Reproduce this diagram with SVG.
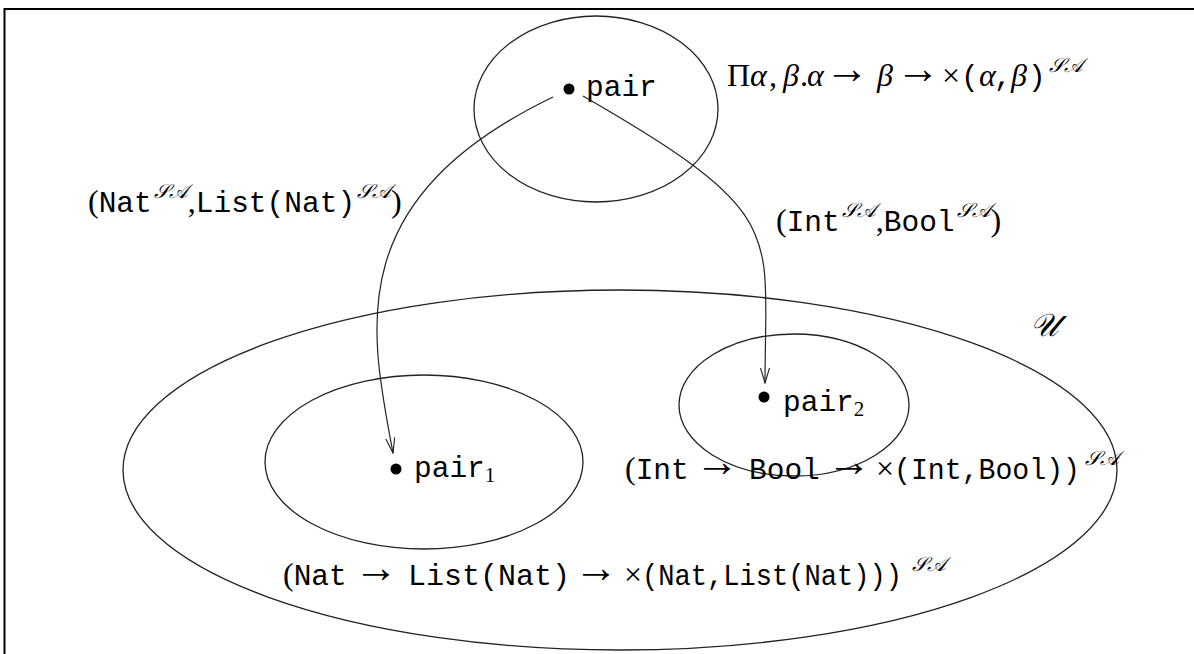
<svg xmlns="http://www.w3.org/2000/svg" width="1194" height="654" viewBox="0 0 1194 654">
  <style>
    .ring { fill: none; stroke: #222; stroke-width: 1.3; }
    .edge { fill: none; stroke: #222; stroke-width: 1.2; }
    .dot { fill: #000; }
    .tt { font-family: "Liberation Mono", "DejaVu Sans Mono", monospace; font-size: 29.5px; fill: #000; }
    .rm { font-family: "Liberation Serif", "DejaVu Serif", serif; font-size: 32px; fill: #000; }
    .it { font-family: "Liberation Serif", "DejaVu Serif", serif; font-style: italic; font-size: 32px; fill: #000; }
    .ar { font-family: "Liberation Serif", "DejaVu Serif", serif; font-size: 44px; fill: #000; }
    .sup { font-family: "Liberation Serif", "DejaVu Serif", serif; font-style: italic; font-size: 20px; fill: #000; }
    .sub { font-family: "Liberation Serif", "DejaVu Serif", serif; font-size: 21px; fill: #000; }
  </style>
  <defs>
    <marker id="vee" viewBox="0 0 16 12" refX="15" refY="6" markerWidth="16" markerHeight="12" markerUnits="userSpaceOnUse" orient="auto">
      <path d="M0,1.5 L15,6 L0,10.5" fill="none" stroke="#222" stroke-width="1.1"/>
    </marker>
  </defs>

  <rect width="1194" height="654" fill="#fff"/>
  <!-- frame -->
  <path d="M4.5,654 L4.5,9 L1194,9" fill="none" stroke="#000" stroke-width="2"/>

  <!-- universe -->
  <g id="universe">
    <ellipse class="ring" cx="620" cy="470" rx="497" ry="180"/>
    <text class="it" x="1030" y="336" font-size="34">𝒰</text>
  </g>

  <!-- polymorphic pair -->
  <g id="pair">
    <ellipse class="ring" cx="596" cy="109" rx="122" ry="93"/>
    <circle class="dot" cx="569" cy="89" r="5.5"/>
    <text class="tt" x="586" y="96">pair</text>
    <text y="86">
      <tspan class="rm" x="727">Π</tspan><tspan class="it" x="750">α</tspan><tspan class="rm" x="769">,</tspan><tspan class="it" x="783">β</tspan><tspan class="rm" x="800">.</tspan><tspan class="it" x="807">α</tspan><tspan class="ar" x="825" dy="-3">→</tspan><tspan class="it" x="877" dy="3">β</tspan><tspan class="ar" x="896" dy="-3">→</tspan><tspan class="rm" x="942" dy="3">×</tspan><tspan class="tt" x="961">(</tspan><tspan class="it" x="979">α</tspan><tspan class="tt" x="994">,</tspan><tspan class="it" x="1011">β</tspan><tspan class="tt" x="1028">)</tspan><tspan class="sup" x="1049" dy="-14">𝒮𝒜</tspan>
    </text>
  </g>

  <!-- pair instance 1 -->
  <g id="pair1">
    <ellipse class="ring" cx="424" cy="462" rx="159" ry="87"/>
    <circle class="dot" cx="396" cy="469" r="5.5"/>
    <text y="477"><tspan class="tt" x="414">pair</tspan><tspan class="sub" dy="5">1</tspan></text>
    <text y="585">
      <tspan class="rm" x="283">(</tspan><tspan class="tt">Nat</tspan><tspan class="ar" x="354" dy="-3">→</tspan><tspan class="tt" x="408" dy="3" textLength="162" lengthAdjust="spacingAndGlyphs">List(Nat)</tspan><tspan class="ar" x="574" dy="-3">→</tspan><tspan class="rm" x="624" dy="3">×</tspan><tspan class="tt" x="642" textLength="260" lengthAdjust="spacingAndGlyphs">(Nat,List(Nat)))</tspan><tspan class="sup" x="912" dy="-14">𝒮𝒜</tspan>
    </text>
  </g>

  <!-- pair instance 2 -->
  <g id="pair2">
    <ellipse class="ring" cx="794" cy="405" rx="115" ry="71"/>
    <circle class="dot" cx="764" cy="397" r="5.5"/>
    <text y="411"><tspan class="tt" x="783">pair</tspan><tspan class="sub" dy="5">2</tspan></text>
    <text y="479">
      <tspan class="rm" x="625">(</tspan><tspan class="tt">Int</tspan><tspan class="ar" x="695" dy="-3">→</tspan><tspan class="tt" x="749" dy="3">Bool</tspan><tspan class="ar" x="827" dy="-3">→</tspan><tspan class="rm" x="876" dy="3">×</tspan><tspan class="tt" x="894" textLength="186" lengthAdjust="spacingAndGlyphs">(Int,Bool))</tspan><tspan class="sup" x="1085" dy="-14">𝒮𝒜</tspan>
    </text>
  </g>

  <!-- instantiation arrows -->
  <g id="connectors">
    <path class="edge" d="M553,97 C340,200 370,330 393,453" marker-end="url(#vee)"/>
    <path class="edge" d="M583,96 C790,215 765,230 765,383" marker-end="url(#vee)"/>
    <text y="212"><tspan class="rm" x="88">(</tspan><tspan class="tt">Nat</tspan><tspan class="sup" dx="2" dy="-14">𝒮𝒜</tspan><tspan class="rm" dy="14">,</tspan><tspan class="tt">List(Nat)</tspan><tspan class="sup" dx="2" dy="-14">𝒮𝒜</tspan><tspan class="rm" dy="14">)</tspan></text>
    <text y="231"><tspan class="rm" x="776">(</tspan><tspan class="tt">Int</tspan><tspan class="sup" dx="2" dy="-14">𝒮𝒜</tspan><tspan class="rm" dy="14">,</tspan><tspan class="tt">Bool</tspan><tspan class="sup" dx="2" dy="-14">𝒮𝒜</tspan><tspan class="rm" dy="14">)</tspan></text>
  </g>
</svg>
